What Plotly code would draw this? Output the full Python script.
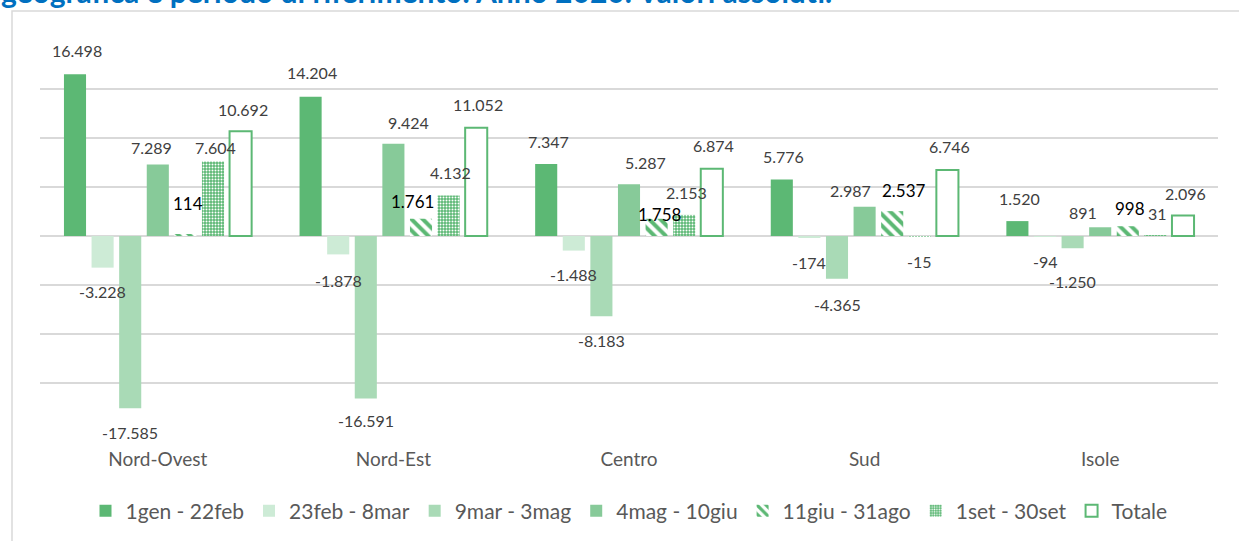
import plotly.graph_objects as go

regions = ["Nord-Ovest", "Nord-Est", "Centro", "Sud", "Isole"]
series_names = ["1gen - 22feb", "23feb - 8mar", "9mar - 3mag", "4mag - 10giu",
                "11giu - 31ago", "1set - 30set", "Totale"]
v_1gen = [16498, 14204, 7347, 5776, 1520]
v_23feb = [-3228, -1878, -1488, -174, -94]
v_9mar = [-17585, -16591, -8183, -4365, -1250]
v_4mag = [7289, 9424, 5287, 2987, 891]
v_11giu = [114, 1761, 1758, 2537, 998]
v_1set = [7604, 4132, 2153, -15, 31]
v_totale = [10692, 11052, 6874, 6746, 2096]
values = [v_1gen, v_23feb, v_9mar, v_4mag, v_11giu, v_1set, v_totale]

title_text = "geografica e periodo di riferimento. Anno 2020. Valori assoluti."

# label pixel offsets (dx, dy) per series/region (style)
label_offsets = [
    [(2, -24), (1, -24), (2, -23), (2, -23), (2, -23)],
    [(0, 24), (0, 26), (0, 24), (0, 25), (0, 25)],
    [(0, 24), (0, 22), (0, 24), (0, 26), (0, 33)],
    [(-6, -17), (15, -21), (16, -22), (-14, -16), (-17, -15)],
    [(3, -31), (-9, -17), (3, -4), (12, -21), (2, -18)],
    [(2, -14), (2, -23), (2, -22), (0, 25), (2, -22)],
    [(2, -22), (2, -23), (2, -23), (2, -23), (2, -22)],
]

GREEN = "#5cb874"
fills = ["#5cb874", "#cdebd6", "#a9dab6", "#87ca99", None, None, "#ffffff"]
FONT = "Lato"

W, H = 1239, 541
L, R, T, B = 40, 21, 40, 109
PW, PH = W - L - R, H - T - B

def px_x(p):
    return (p - L) / PW

def px_y(p):
    return (H - B - p) / PH

fig = go.Figure()
for i, (name, vals) in enumerate(zip(series_names, values)):
    if i == 4:
        marker = dict(color="#ffffff",
                      pattern=dict(shape="\\", fgcolor=GREEN, bgcolor="#ffffff",
                                   fgopacity=1, size=8, solidity=0.5,
                                   fillmode="replace"),
                      line=dict(width=0))
    elif i == 5:
        marker = dict(color="#ffffff",
                      pattern=dict(shape=".", fgcolor="#ffffff", bgcolor=GREEN,
                                   fgopacity=1, size=3, solidity=0.35,
                                   fillmode="replace"),
                      line=dict(width=0))
    elif i == 6:
        marker = dict(color="#ffffff", line=dict(color=GREEN, width=2))
    else:
        marker = dict(color=fills[i], line=dict(width=0))
    fig.add_trace(go.Bar(x=regions, y=vals, name=name, marker=marker,
                         hoverinfo="skip"))

bargap = 0.18
bargroupgap = 0.2
n = len(values)
slot = (1 - bargap) / n
for i, vals in enumerate(values):
    for j, v in enumerate(vals):
        dx, dy = label_offsets[i][j]
        xpos = j - (1 - bargap) / 2 + (i + 0.5) * slot
        txt = f"{v:,}".replace(",", ".")
        fig.add_annotation(
            x=xpos, y=v, xref="x", yref="y", text=txt, showarrow=False,
            xanchor="center", yanchor="middle", xshift=dx, yshift=-dy,
            font=dict(family=FONT, size=17 if i == 4 else 16,
                      color="#000000" if i == 4 else "#404040"))

# cut-off title at top
fig.add_annotation(x=px_x(-1), y=px_y(11), xref="paper", yref="paper",
                   text="<b>" + title_text + "</b>", showarrow=False,
                   xanchor="left", yanchor="bottom",
                   font=dict(family=FONT, size=30, color="#0070c0"))

# chart frame
fig.add_shape(type="rect", xref="paper", yref="paper",
              x0=px_x(12), x1=px_x(1260), y0=px_y(560), y1=px_y(11),
              line=dict(color="#d9d9d9", width=1.5), fillcolor="rgba(0,0,0,0)",
              layer="below")

fig.update_layout(
    width=W, height=H,
    margin=dict(l=L, r=R, t=T, b=B, autoexpand=False),
    barmode="group", bargap=bargap, bargroupgap=bargroupgap,
    plot_bgcolor="#ffffff", paper_bgcolor="#ffffff",
    separators=",.",
    font=dict(family=FONT, color="#595959"),
    showlegend=True,
    legend=dict(orientation="h", x=0.5, xanchor="center", y=px_y(511),
                yanchor="middle", font=dict(family=FONT, size=21, color="#595959"),
                itemwidth=30, traceorder="normal"),
    xaxis=dict(showgrid=False, showline=False, ticks="", ticklabelstandoff=14,
               tickfont=dict(family=FONT, size=19, color="#595959")),
    yaxis=dict(range=[-20000, 20000], dtick=5000, showgrid=True,
               gridcolor="#d9d9d9", gridwidth=1.5, zeroline=True,
               zerolinecolor="#d9d9d9", zerolinewidth=1.5,
               showticklabels=False, ticks=""),
)

fig.write_html("out.html", config={"displayModeBar": False},
               post_script="document.body.style.margin='0';document.body.style.overflow='hidden';")
